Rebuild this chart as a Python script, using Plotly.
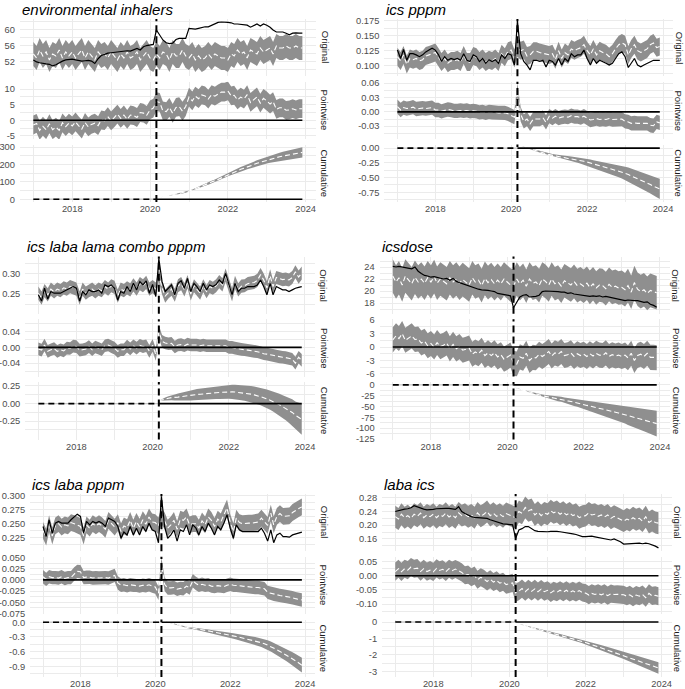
import numpy as np
import pandas as pd
import plotly.graph_objects as go

# monthly series, Jan 2017 - Dec 2023, intervention at March 2020
months = pd.date_range("2017-01-01", periods=84, freq="MS")
post_start = 38
intervention = months[post_start]

facet_names = ["Original", "Pointwise", "Cumulative"]
titles = ["environmental inhalers", "ics pppm", "ics laba lama combo pppm",
          "icsdose", "ics laba pppm", "laba ics"]

# ---- environmental inhalers
env_actual = [52.5, 52.0, 51.8, 51.6, 51.5, 51.4, 51.0, 51.3, 51.8, 52.2, 52.5, 52.6,
              52.7, 52.5, 52.3, 52.2, 52.3, 52.4, 52.2, 51.6, 52.8, 53.6, 53.9, 54.2,
              54.3, 54.4, 54.5, 54.6, 54.7, 54.8, 54.7, 55.0, 55.4, 55.0, 55.8, 56.1,
              56.3, 56.4, 60.0, 58.7, 57.5, 56.8, 56.6, 56.7, 57.6, 57.9, 57.9, 57.9,
              60.4, 60.2, 60.2, 60.4, 60.6, 60.8, 60.8, 61.2, 61.7, 61.9, 62.0, 62.0,
              61.9, 61.8, 61.5, 61.5, 61.4, 61.3, 61.2, 60.7, 61.2, 61.5, 61.0, 61.5,
              61.2, 60.7, 60.0, 59.5, 59.5, 59.5, 59.2, 58.8, 59.2, 59.3, 59.2, 59.2]
env_pred = [54.0, 53.0, 55.0, 53.5, 54.5, 52.5, 54.0, 53.5, 55.0, 53.0, 54.5, 53.5,
            54.5, 53.0, 54.0, 55.0, 53.0, 54.5, 53.5, 52.5, 54.5, 53.5, 54.0, 53.0,
            54.5, 53.5, 52.5, 54.0, 53.0, 54.5, 53.0, 53.5, 54.5, 52.5, 53.5, 54.5,
            53.0, 52.5, 54.0, 53.0, 54.5, 54.0, 52.5, 54.5, 53.5, 53.5, 55.0, 53.5,
            53.0, 54.0, 52.5, 53.5, 52.5, 53.0, 54.0, 53.0, 54.0, 53.5, 53.0, 53.0,
            52.5, 54.0, 53.5, 55.0, 54.0, 54.5, 53.0, 55.0, 54.5, 54.0, 55.5, 54.5,
            55.0, 55.5, 54.0, 56.0, 55.5, 55.5, 56.0, 55.5, 55.5, 56.0, 55.5, 55.5]
env_hw = 3.0
env_cum_hw = [0, 0.1, 0.3, 0.5, 0.8, 1.1, 1.5, 1.8, 2.3, 2.7, 3.2, 3.6, 4.1, 4.7, 5.2, 5.8,
              6.4, 7.0, 7.6, 8.2, 8.9, 9.6, 10.3, 11.0, 11.7, 12.4, 13.2, 14.0, 14.7, 15.5,
              16.3, 17.2, 18.0, 18.8, 19.7, 20.6, 21.5, 22.4, 23.3, 24.2, 25.1, 26.1, 27.1,
              28.0, 29.0, 30.0]

# ---- ics pppm
ics_actual = [0.126, 0.112, 0.127, 0.109, 0.120, 0.120, 0.118, 0.115, 0.118, 0.123, 0.126, 0.129,
              0.126, 0.118, 0.107, 0.115, 0.109, 0.112, 0.110, 0.112, 0.109, 0.120, 0.109, 0.107,
              0.118, 0.115, 0.107, 0.112, 0.104, 0.110, 0.107, 0.110, 0.104, 0.118, 0.112, 0.120,
              0.118, 0.101, 0.175, 0.120, 0.107, 0.101, 0.093, 0.109, 0.109, 0.107, 0.109, 0.098,
              0.109, 0.107, 0.101, 0.112, 0.101, 0.112, 0.107, 0.120, 0.115, 0.118, 0.118, 0.126,
              0.112, 0.101, 0.112, 0.104, 0.109, 0.107, 0.104, 0.101, 0.104, 0.112, 0.120, 0.123,
              0.115, 0.097, 0.104, 0.112, 0.101, 0.098, 0.101, 0.104, 0.107, 0.109, 0.109, 0.109]
ics_pred = [0.115, 0.108, 0.118, 0.102, 0.112, 0.110, 0.112, 0.108, 0.110, 0.116, 0.118, 0.120,
            0.122, 0.114, 0.106, 0.112, 0.104, 0.108, 0.108, 0.110, 0.106, 0.118, 0.106, 0.106,
            0.116, 0.114, 0.108, 0.112, 0.106, 0.110, 0.108, 0.112, 0.106, 0.120, 0.114, 0.124,
            0.126, 0.112, 0.130, 0.125, 0.127, 0.116, 0.118, 0.124, 0.124, 0.122, 0.121, 0.120,
            0.118, 0.120, 0.110, 0.125, 0.112, 0.122, 0.118, 0.128, 0.125, 0.128, 0.130, 0.135,
            0.125, 0.118, 0.128, 0.118, 0.125, 0.122, 0.120, 0.115, 0.120, 0.128, 0.135, 0.138,
            0.135, 0.118, 0.128, 0.135, 0.125, 0.122, 0.125, 0.128, 0.135, 0.138, 0.130, 0.132]
ics_hw = 0.015
ics_cum_hw = [0, .001, .002, .003, .005, .006, .008, .010, .013, .015, .018, .021, .023, .026,
              .030, .033, .036, .039, .043, .047, .050, .054, .058, .062, .066, .070, .075, .079,
              .083, .088, .092, .097, .102, .107, .112, .117, .122, .127, .132, .137, .142, .148,
              .153, .159, .164, .170]

# ---- ics laba lama combo pppm
lama_actual = [0.248, 0.233, 0.264, 0.238, 0.256, 0.252, 0.252, 0.252, 0.256, 0.260, 0.265, 0.268,
               0.264, 0.233, 0.256, 0.248, 0.260, 0.256, 0.256, 0.260, 0.252, 0.272, 0.268, 0.272,
               0.264, 0.235, 0.256, 0.252, 0.268, 0.256, 0.276, 0.260, 0.280, 0.272, 0.282, 0.252,
               0.273, 0.244, 0.336, 0.280, 0.256, 0.264, 0.272, 0.248, 0.276, 0.282, 0.264, 0.288,
               0.256, 0.276, 0.268, 0.256, 0.276, 0.260, 0.272, 0.268, 0.273, 0.284, 0.276, 0.300,
               0.272, 0.248, 0.276, 0.256, 0.264, 0.264, 0.268, 0.268, 0.268, 0.272, 0.284, 0.268,
               0.248, 0.276, 0.248, 0.268, 0.264, 0.260, 0.260, 0.256, 0.260, 0.264, 0.266, 0.268]
lama_pred = [0.252, 0.240, 0.258, 0.248, 0.262, 0.255, 0.262, 0.258, 0.265, 0.262, 0.268, 0.265,
             0.262, 0.240, 0.262, 0.252, 0.258, 0.262, 0.255, 0.262, 0.258, 0.268, 0.262, 0.270,
             0.266, 0.245, 0.262, 0.258, 0.265, 0.260, 0.272, 0.262, 0.275, 0.270, 0.278, 0.262,
             0.268, 0.262, 0.296, 0.265, 0.245, 0.255, 0.262, 0.247, 0.270, 0.275, 0.260, 0.280,
             0.250, 0.270, 0.262, 0.252, 0.270, 0.256, 0.268, 0.264, 0.270, 0.280, 0.272, 0.296,
             0.272, 0.248, 0.278, 0.260, 0.269, 0.270, 0.275, 0.276, 0.278, 0.283, 0.297, 0.284,
             0.265, 0.294, 0.268, 0.290, 0.288, 0.285, 0.286, 0.284, 0.290, 0.304, 0.291, 0.301]
lama_hw = 0.016
lama_cum_hw = [0, .012, .022, .030, .037, .044, .050, .056, .062, .067, .072,
               .075, .078, .080, .082, .084, .086, .088, .090, .092, .094, .096, .098,
               .100, .102, .104, .107, .110, .113, .116, .119, .122, .125, .128, .132,
               .137, .142, .148, .155, .162, .170, .178, .187, .197, .208, .220]

# ---- icsdose
dose_actual = [24.1, 24.0, 24.1, 24.0, 24.0, 23.9, 23.7, 24.0, 23.3, 22.9, 22.6, 22.5,
               22.3, 22.4, 22.3, 22.1, 22.0, 22.1, 21.8, 22.1, 21.6, 21.4, 21.2, 21.0,
               20.8, 20.6, 20.4, 20.3, 20.2, 20.2, 20.1, 20.0, 19.9, 19.6, 19.5, 19.3,
               19.2, 19.2, 17.2, 18.2, 19.0, 19.3, 19.4, 19.0, 19.0, 19.1, 19.3, 19.9,
               20.0, 20.0, 20.0, 19.9, 19.9, 19.8, 19.8, 19.6, 19.7, 19.5, 19.4, 19.3,
               19.2, 19.2, 19.1, 19.2, 19.1, 19.2, 19.0, 19.1, 19.0, 18.9, 18.8, 18.7,
               18.5, 18.4, 18.5, 18.4, 18.4, 18.4, 18.3, 18.1, 18.2, 17.8, 17.6, 17.3]
dose_pred = [22.5, 21.5, 22.2, 21.0, 22.5, 21.8, 21.2, 22.3, 21.5, 22.0, 21.3, 22.2,
             21.5, 22.4, 21.3, 22.0, 21.6, 21.2, 22.2, 21.5, 22.0, 21.3, 21.9, 21.5,
             21.0, 22.2, 21.5, 21.8, 20.9, 22.1, 21.4, 21.9, 21.2, 21.8, 21.2, 22.0,
             21.5, 21.0, 20.8, 22.0, 21.2, 21.8, 20.8, 22.0, 21.3, 21.5, 20.9, 22.0,
             21.6, 21.0, 22.0, 21.2, 21.5, 20.8, 21.7, 21.3, 21.0, 21.6, 20.9, 21.2,
             20.8, 21.3, 20.6, 21.2, 20.5, 21.0, 20.9, 20.4, 21.1, 20.6, 20.8, 20.5,
             20.6, 20.2, 20.9, 19.8, 21.4, 20.3, 19.9, 20.2, 19.6, 20.1, 19.9, 19.7]
dose_hw = 2.8
dose_cum_hw = [0, 0.1, 0.3, 0.5, 0.8, 1.1, 1.5, 1.8, 2.3, 2.7, 3.2, 3.6, 4.1, 4.7, 5.2, 5.8,
               6.4, 7.0, 7.6, 8.2, 8.9, 9.6, 10.3, 11.0, 11.7, 12.4, 13.2, 14.0, 14.7, 15.5,
               16.3, 17.2, 18.0, 18.8, 19.7, 20.6, 21.5, 22.4, 23.3, 24.2, 25.1, 26.1, 27.1,
               28.0, 29.0, 30.0]

# ---- ics laba pppm
icsl_actual = [0.245, 0.227, 0.257, 0.233, 0.251, 0.254, 0.251, 0.251, 0.251, 0.257, 0.263, 0.267,
               0.263, 0.233, 0.254, 0.248, 0.254, 0.251, 0.254, 0.251, 0.245, 0.260, 0.257, 0.254,
               0.245, 0.224, 0.235, 0.230, 0.245, 0.230, 0.242, 0.230, 0.245, 0.236, 0.251, 0.239,
               0.236, 0.216, 0.299, 0.245, 0.224, 0.230, 0.239, 0.219, 0.239, 0.236, 0.248, 0.230,
               0.248, 0.242, 0.230, 0.245, 0.236, 0.251, 0.242, 0.230, 0.245, 0.239, 0.251, 0.266,
               0.242, 0.224, 0.248, 0.239, 0.236, 0.236, 0.235, 0.235, 0.235, 0.236, 0.242, 0.233,
               0.219, 0.239, 0.216, 0.230, 0.233, 0.227, 0.227, 0.226, 0.230, 0.232, 0.233, 0.235]
icsl_pred = [0.238, 0.226, 0.250, 0.228, 0.246, 0.250, 0.244, 0.248, 0.246, 0.252, 0.250, 0.248,
             0.245, 0.228, 0.248, 0.242, 0.250, 0.246, 0.250, 0.246, 0.240, 0.256, 0.250, 0.244,
             0.252, 0.236, 0.246, 0.243, 0.256, 0.242, 0.254, 0.244, 0.257, 0.249, 0.262, 0.253,
             0.252, 0.246, 0.264, 0.255, 0.242, 0.248, 0.256, 0.240, 0.258, 0.256, 0.262, 0.248,
             0.250, 0.250, 0.242, 0.255, 0.248, 0.262, 0.256, 0.245, 0.258, 0.253, 0.266, 0.278,
             0.252, 0.236, 0.260, 0.252, 0.250, 0.251, 0.251, 0.251, 0.252, 0.253, 0.260, 0.253,
             0.247, 0.269, 0.248, 0.263, 0.268, 0.263, 0.264, 0.264, 0.270, 0.274, 0.277, 0.280]
icsl_hw = 0.015
icsl_cum_hw = [0, .000, .001, .003, .004, .006, .007, .009, .011, .013, .016, .018, .021, .023,
               .026, .029, .032, .035, .038, .041, .044, .048, .051, .055, .058, .062, .066, .070,
               .074, .078, .082, .086, .090, .094, .099, .103, .107, .112, .116, .121, .126, .131,
               .135, .140, .145, .150]

# ---- laba ics
laba_actual = [0.240, 0.243, 0.246, 0.247, 0.248, 0.251, 0.257, 0.253, 0.250, 0.247, 0.245, 0.245,
               0.246, 0.248, 0.249, 0.249, 0.249, 0.249, 0.248, 0.246, 0.254, 0.240, 0.234, 0.229,
               0.225, 0.223, 0.222, 0.221, 0.221, 0.220, 0.216, 0.213, 0.210, 0.206, 0.204, 0.203,
               0.202, 0.201, 0.162, 0.186, 0.190, 0.196, 0.196, 0.191, 0.184, 0.182, 0.181, 0.180,
               0.181, 0.182, 0.183, 0.182, 0.181, 0.180, 0.179, 0.177, 0.175, 0.173, 0.170, 0.167,
               0.167, 0.168, 0.168, 0.166, 0.164, 0.163, 0.162, 0.160, 0.157, 0.160, 0.157, 0.152,
               0.145, 0.146, 0.147, 0.147, 0.148, 0.148, 0.146, 0.148, 0.146, 0.143, 0.139, 0.134]
laba_pred = [0.225, 0.218, 0.232, 0.222, 0.228, 0.220, 0.232, 0.226, 0.235, 0.222, 0.230, 0.225,
             0.232, 0.222, 0.230, 0.226, 0.235, 0.224, 0.230, 0.222, 0.236, 0.228, 0.232, 0.225,
             0.230, 0.222, 0.236, 0.226, 0.232, 0.240, 0.228, 0.235, 0.226, 0.232, 0.225, 0.234,
             0.230, 0.226, 0.222, 0.240, 0.235, 0.252, 0.242, 0.246, 0.230, 0.238, 0.228, 0.236,
             0.232, 0.242, 0.236, 0.240, 0.232, 0.238, 0.230, 0.236, 0.228, 0.232, 0.222, 0.226,
             0.228, 0.236, 0.230, 0.232, 0.226, 0.230, 0.224, 0.230, 0.220, 0.226, 0.222, 0.218,
             0.212, 0.218, 0.214, 0.222, 0.216, 0.220, 0.212, 0.225, 0.208, 0.214, 0.208, 0.206]
laba_hw = 0.032
laba_cum_hw = [0, .001, .003, .006, .009, .013, .017, .021, .026, .031, .037, .042, .048, .054,
               .061, .068, .074, .081, .089, .096, .104, .112, .120, .128, .136, .145, .154, .163,
               .172, .181, .190, .200, .210, .220, .230, .240, .251, .261, .272, .282, .293, .305,
               .316, .327, .338, .350]

# y tick values (Original, Pointwise, Cumulative) and label formats
yticks = [
    [([52, 56, 60], "%.0f"), ([-5, 0, 5, 10], "%.0f"), ([0, 100, 200, 300], "%.0f")],
    [([0.1, 0.125, 0.15, 0.175], "%.3f"), ([-0.03, 0, 0.03, 0.06], "%.2f"), ([-0.75, -0.5, -0.25, 0], "%.2f")],
    [([0.25, 0.30], "%.2f"), ([-0.04, 0, 0.04], "%.2f"), ([-0.25, 0, 0.25], "%.2f")],
    [([18, 20, 22, 24], "%.0f"), ([-6, -3, 0, 3, 6], "%.0f"), ([-125, -100, -75, -50, -25, 0], "%.0f")],
    [([0.225, 0.25, 0.275, 0.3], "%.3f"), ([-0.075, -0.05, -0.025, 0, 0.025, 0.05], "%.3f"), ([-0.9, -0.6, -0.3, 0], "%.1f")],
    [([0.16, 0.2, 0.24, 0.28], "%.2f"), ([-0.1, -0.05, 0, 0.05], "%.2f"), ([-3, -2, -1, 0], "%.0f")],
]
yranges = [
    [[48.4, 62.75], [-6, 12.3], [-15.5, 313.8]],
    [[0.0823, 0.1778], [-0.057, 0.063], [-0.915, 0.06]],
    [[0.202, 0.341], [-0.074, 0.071], [-0.51, 0.305]],
    [[16.2, 25.75], [-6.6, 6.2], [-126.5, 6.5]],
    [[0.2007, 0.303], [-0.0765, 0.0515], [-1.12, 0.055]],
    [[0.124, 0.291], [-0.135, 0.067], [-3.35, 0.15]],
]

panels = [
    (env_actual, env_pred, env_hw, env_cum_hw),
    (ics_actual, ics_pred, ics_hw, ics_cum_hw),
    (lama_actual, lama_pred, lama_hw, lama_cum_hw),
    (dose_actual, dose_pred, dose_hw, dose_cum_hw),
    (icsl_actual, icsl_pred, icsl_hw, icsl_cum_hw),
    (laba_actual, laba_pred, laba_hw, laba_cum_hw),
]

# layout in pixels
W, H = 685, 689
x_edges = [(19.8, 315.9), (384.2, 673.0), (25.1, 315.0), (379.5, 670.0), (30.0, 314.9), (382.0, 671.7)]
strip_gap = [9, 6]   # left column, right column
row_offset = [0, 237.5, 475]
facet_px = [(19, 76.3), (81.8, 139.1), (144.6, 202.0)]

BAND = "#8f8f8f"
GRID = "#ebebeb"
FONT = "Liberation Sans"
TICK_SIZE = 9.3
xr = [pd.Timestamp("2016-08-27"), pd.Timestamp("2024-04-06")]
xmaj = [pd.Timestamp(f"{y}-01-01") for y in (2018, 2020, 2022, 2024)]
xmin = [pd.Timestamp(f"{y}-01-01") for y in (2017, 2019, 2021, 2023)]

fig = go.Figure()
layout = {}
shapes = []
annotations = []

for p, (actual, pred, hw, cum_hw) in enumerate(panels):
    actual = np.array(actual)
    pred = np.array(pred)
    cum_hw = np.array(cum_hw)
    pw = actual - pred
    cum = np.cumsum(pw[post_start:])
    post_x = months[post_start:]
    row, col = p // 2, p % 2
    off = row_offset[row]
    left, right = x_edges[p]

    annotations.append(dict(text=titles[p], x=left / W, y=1 - (off + 9) / H,
                            xref="paper", yref="paper", xanchor="left", yanchor="middle",
                            showarrow=False,
                            font=dict(size=15, color="black", family=FONT, style="italic")))

    for f in range(3):
        n = p * 3 + f + 1
        xa = "x" if n == 1 else f"x{n}"
        ya = "y" if n == 1 else f"y{n}"

        if f == 0:
            fig.add_trace(go.Scatter(x=list(months) + list(months[::-1]),
                                     y=list(pred + hw) + list((pred - hw)[::-1]),
                                     fill="toself", fillcolor=BAND, line=dict(width=0),
                                     mode="lines", xaxis=xa, yaxis=ya, hoverinfo="skip"))
            fig.add_trace(go.Scatter(x=months, y=pred, mode="lines", xaxis=xa, yaxis=ya,
                                     line=dict(color="white", width=1.1, dash="5px,3px")))
            fig.add_trace(go.Scatter(x=months, y=actual, mode="lines", xaxis=xa, yaxis=ya,
                                     line=dict(color="black", width=1.2)))
        elif f == 1:
            fig.add_trace(go.Scatter(x=list(months) + list(months[::-1]),
                                     y=list(pw + hw) + list((pw - hw)[::-1]),
                                     fill="toself", fillcolor=BAND, line=dict(width=0),
                                     mode="lines", xaxis=xa, yaxis=ya, hoverinfo="skip"))
            fig.add_trace(go.Scatter(x=months, y=pw, mode="lines", xaxis=xa, yaxis=ya,
                                     line=dict(color="white", width=1.1, dash="5px,3px")))
            fig.add_trace(go.Scatter(x=[months[0], months[-1]], y=[0, 0], mode="lines",
                                     xaxis=xa, yaxis=ya, line=dict(color="black", width=1.6)))
        else:
            fig.add_trace(go.Scatter(x=list(post_x) + list(post_x[::-1]),
                                     y=list(cum + cum_hw) + list((cum - cum_hw)[::-1]),
                                     fill="toself", fillcolor=BAND, line=dict(width=0),
                                     mode="lines", xaxis=xa, yaxis=ya, hoverinfo="skip"))
            fig.add_trace(go.Scatter(x=post_x, y=cum, mode="lines", xaxis=xa, yaxis=ya,
                                     line=dict(color="white", width=1.1, dash="5px,3px")))
            fig.add_trace(go.Scatter(x=[months[0], intervention], y=[0, 0], mode="lines",
                                     xaxis=xa, yaxis=ya, line=dict(color="#c8c8c8", width=1.4)))
            fig.add_trace(go.Scatter(x=[months[0], intervention], y=[0, 0], mode="lines",
                                     xaxis=xa, yaxis=ya,
                                     line=dict(color="black", width=1.6, dash="6px,4px")))
            fig.add_trace(go.Scatter(x=[intervention, months[-1]], y=[0, 0], mode="lines",
                                     xaxis=xa, yaxis=ya, line=dict(color="black", width=1.6)))

        top, bot = facet_px[f]
        top += off
        bot += off
        vals, fmt = yticks[p][f]
        step = vals[1] - vals[0]
        minor = [vals[0] - step / 2] + [v + step / 2 for v in vals]

        layout["xaxis" if n == 1 else f"xaxis{n}"] = dict(
            domain=[left / W, right / W], anchor=ya, range=xr, type="date", automargin=False,
            tickmode="array", tickvals=xmaj, ticktext=["2018", "2020", "2022", "2024"],
            showticklabels=(f == 2), ticks="", ticklen=0,
            tickfont=dict(size=TICK_SIZE, color="#4d4d4d", family=FONT),
            showgrid=True, gridcolor=GRID, gridwidth=1, zeroline=False, showline=False,
            minor=dict(tickmode="array", tickvals=xmin, showgrid=True, gridcolor=GRID, gridwidth=0.5),
        )
        layout["yaxis" if n == 1 else f"yaxis{n}"] = dict(
            domain=[1 - bot / H, 1 - top / H], anchor=xa, range=yranges[p][f], automargin=False,
            tickmode="array", tickvals=vals, ticktext=[fmt % v for v in vals],
            ticks="outside", ticklen=2, tickcolor="rgba(0,0,0,0)",
            tickfont=dict(size=TICK_SIZE, color="#4d4d4d", family=FONT),
            showgrid=True, gridcolor=GRID, gridwidth=1, zeroline=False, showline=False,
            minor=dict(tickmode="array", tickvals=minor, showgrid=True, gridcolor=GRID, gridwidth=0.5),
        )

        shapes.append(dict(type="line", xref=xa, yref=f"{ya} domain", x0=intervention, x1=intervention,
                           y0=0, y1=1, line=dict(color="black", width=2, dash="7px,4px")))

        annotations.append(dict(text=facet_names[f], x=(right + strip_gap[col]) / W,
                                y=1 - (top + bot) / 2 / H,
                                xref="paper", yref="paper", xanchor="center", yanchor="middle",
                                textangle=90, showarrow=False,
                                font=dict(size=9.5, color="#1a1a1a", family=FONT)))

fig.update_layout(**layout)
fig.update_layout(width=W, height=H, autosize=False, showlegend=False,
                  margin=dict(l=0, r=0, t=0, b=0, pad=0),
                  paper_bgcolor="white", plot_bgcolor="white",
                  shapes=shapes, annotations=annotations,
                  font=dict(family=FONT))

# the page body has a default 8px margin; drop it so the figure sits at the window corner
fig.write_html("out.html", config={"displayModeBar": False},
               post_script="document.body.style.margin='0px';")
